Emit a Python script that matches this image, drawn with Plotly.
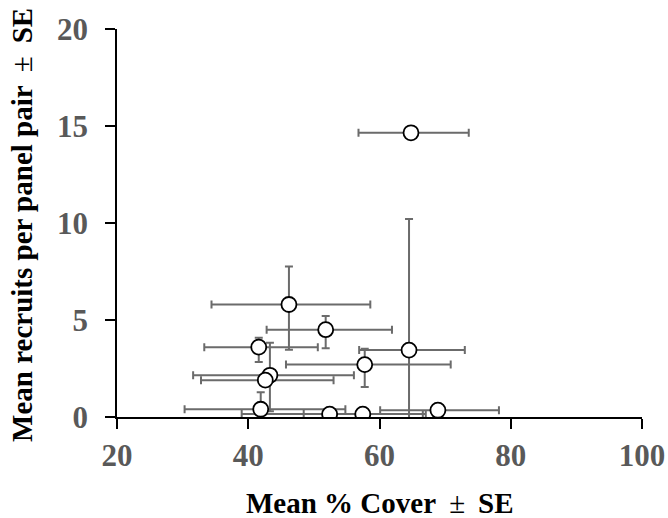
import plotly.graph_objects as go

cover = [64.8, 46.2, 51.8, 41.6, 64.5, 57.75, 43.3, 42.6, 41.9, 52.4, 57.45, 68.9]
recruits = [14.65, 5.8, 4.5, 3.6, 3.45, 2.7, 2.15, 1.9, 0.4, 0.15, 0.15, 0.35]
cover_se_plus = [8.8, 12.4, 10.1, 9.0, 8.5, 13.1, 12.8, 10.4, 12.9, 14.2, 9.6, 9.3]
cover_se_minus = [8.0, 11.8, 9.0, 8.3, 7.6, 12.0, 11.7, 9.8, 11.6, 13.4, 9.0, 8.8]
rec_se_plus = [0, 1.96, 0.7, 0.49, 6.76, 0.82, 1.68, 0, 0.88, 0, 0, 0]
rec_se_minus = [0, 2.33, 0.95, 0.76, 6.76, 1.15, 1.85, 0, 0.88, 0, 0, 0]

x_ticks = [20, 40, 60, 80, 100]
y_ticks = [0, 5, 10, 15, 20]
x_title = "Mean % Cover\u2009 <span style='font-weight:normal'>\u00b1</span>\u2009 SE"
y_title = "Mean recruits per panel pair\u2009 <span style='font-weight:normal'>\u00b1</span>\u2009 SE"

ERR = "#6b6b6b"
FONT = "Liberation Serif"
TICKFONT = dict(family=FONT, size=31, color="#595959", weight="bold")
TITLEFONT = dict(family=FONT, size=29, color="black", weight="bold")

fig = go.Figure(go.Scatter(
    x=cover, y=recruits, mode="markers",
    marker=dict(size=15, color="white", line=dict(color="black", width=1.8)),
    error_x=dict(type="data", symmetric=False, array=cover_se_plus, arrayminus=cover_se_minus,
                 color=ERR, thickness=2, width=4),
    error_y=dict(type="data", symmetric=False, array=rec_se_plus, arrayminus=rec_se_minus,
                 color=ERR, thickness=2, width=4),
))

fig.update_layout(
    width=668, height=518,
    margin=dict(l=117, r=26, t=29, b=101, autoexpand=False),
    plot_bgcolor="white", paper_bgcolor="white",
    showlegend=False,
    font=dict(family=FONT),
    xaxis=dict(
        range=[20, 100], tickvals=x_ticks, showgrid=False, zeroline=False, automargin=False,
        showline=True, linecolor="black", linewidth=1.5,
        ticks="outside", ticklen=10, tickwidth=1.5, tickcolor="black",
        tickfont=TICKFONT, ticklabelstandoff=0,
    ),
    yaxis=dict(
        range=[0, 20], tickvals=y_ticks, showgrid=False, zeroline=False, automargin=False,
        showline=True, linecolor="black", linewidth=1.5,
        ticks="outside", ticklen=10, tickwidth=1.5, tickcolor="black",
        tickfont=TICKFONT, ticklabelstandoff=11,
    ),
    annotations=[
        dict(text=x_title, xref="paper", yref="paper", x=0.5, y=0, yshift=-86,
             xanchor="center", yanchor="middle", showarrow=False, font=TITLEFONT),
        dict(text=y_title, xref="paper", yref="paper", x=0, y=0.495, xshift=-95,
             xanchor="center", yanchor="middle", textangle=-90, showarrow=False, font=TITLEFONT),
    ],
)

fig.write_html("out.html", config={"displayModeBar": False},
               post_script="document.body.style.margin='0';document.body.style.overflow='hidden';")
